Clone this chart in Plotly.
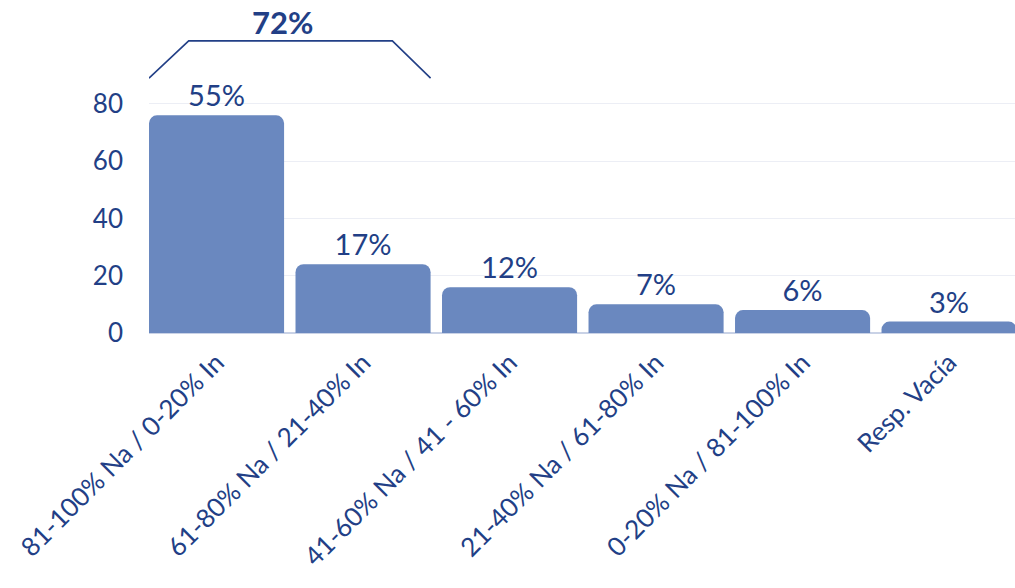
import plotly.graph_objects as go

# Survey responses by share of "Na" vs "In"
categories = [
    "81-100% Na / 0-20% In",
    "61-80% Na / 21-40% In",
    "41-60% Na / 41 - 60% In",
    "21-40% Na / 61-80% In",
    "0-20% Na / 81-100% In",
    "Resp. Vacía",
]
counts = [76, 24, 16, 10, 8, 4]
y_ticks = [0, 20, 40, 60, 80]

total = sum(counts)
pct_labels = [f"{round(100 * c / total)}%" for c in counts]
top_two_pct = f"{round(100 * (counts[0] + counts[1]) / total)}%"

TEXT = "#223f86"
BAR = "#6a88bf"
GRID = "#eceef5"
FONT = "Lato"

x_idx = list(range(len(categories)))
half = 0.461  # half bar width in category units

fig = go.Figure()
fig.add_trace(go.Bar(
    x=x_idx,
    y=counts,
    marker=dict(color=BAR, cornerradius=8, line=dict(width=0)),
    width=2 * half,
    text=pct_labels,
    textposition="outside",
    textfont=dict(family=FONT, size=29, color=TEXT),
    cliponaxis=False,
    hoverinfo="skip",
))

# bracket grouping the first two bars
bx = [-half, -0.19, 1.2, 1 + half]
by = [89, 102, 102, 89]
fig.add_trace(go.Scatter(
    x=bx, y=by, mode="lines",
    line=dict(color=TEXT, width=1.6),
    hoverinfo="skip",
))
fig.add_annotation(
    x=0.45, y=108.6, text=f"<b>{top_two_pct}</b>",
    showarrow=False, font=dict(family=FONT, size=31, color=TEXT),
)

fig.update_layout(
    width=1015, height=588,
    margin=dict(l=149, r=0, t=18, b=255),
    plot_bgcolor="white", paper_bgcolor="white",
    showlegend=False,
    xaxis=dict(
        range=[-half, 5.45],
        tickmode="array", tickvals=x_idx, ticktext=categories,
        tickangle=-45,
        tickfont=dict(family=FONT, size=26, color=TEXT),
        showgrid=False, zeroline=False, showline=False,
        ticks="outside", ticklen=3, tickcolor="rgba(0,0,0,0)",
        automargin=False, ticklabeloverflow="allow",
    ),
    yaxis=dict(
        range=[0, 110],
        tickmode="array", tickvals=y_ticks,
        tickfont=dict(family=FONT, size=26, color=TEXT),
        showgrid=True, gridcolor=GRID, gridwidth=1,
        zeroline=True, zerolinecolor="#c9d2e6", zerolinewidth=1.5,
        showline=False,
        ticklabelstandoff=25,
        automargin=False,
    ),
)

fig.write_html("out.html")
